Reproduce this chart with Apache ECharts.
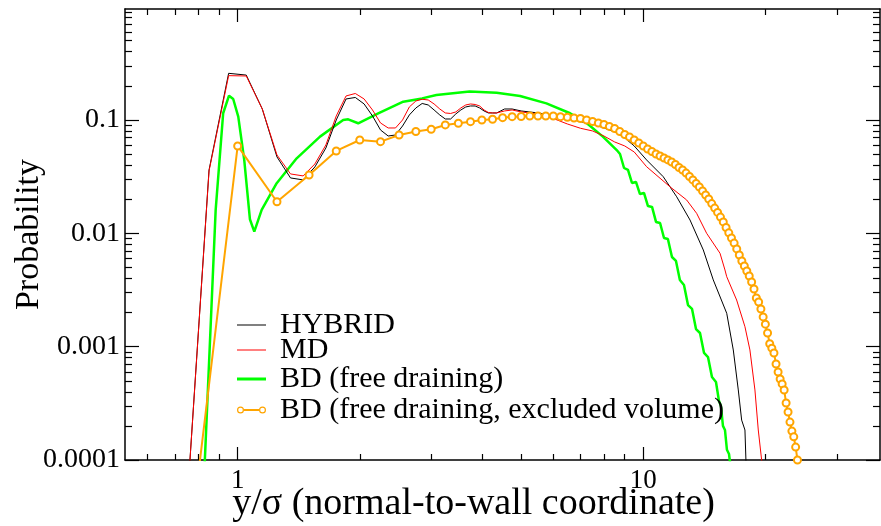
<!DOCTYPE html>
<html>
<head>
<meta charset="utf-8">
<script src="https://cdn.jsdelivr.net/npm/echarts@6/dist/echarts.min.js"></script>
<style>
html,body{margin:0;padding:0;background:#fff;}
#chart{width:881px;height:526px;}
</style>
</head>
<body>
<div id="chart"></div>
<script>
// ---- axis ticks / labels ----
const X_MAJOR = [1, 10];
const X_TICK_LABELS = ['1', '10'];
const X_MINOR = [0.6, 0.7, 0.8, 0.9, 2, 3, 4, 5, 6, 7, 8, 9, 20, 30];
const Y_MAJOR = [0.1, 0.01, 0.001, 0.0001];
const Y_TICK_LABELS = ['0.1', '0.01', '0.001', '0.0001'];
const Y_MINOR = [0.2,0.3,0.4,0.5,0.6,0.7,0.8,0.9,
                 0.02,0.03,0.04,0.05,0.06,0.07,0.08,0.09,
                 0.002,0.003,0.004,0.005,0.006,0.007,0.008,0.009,
                 0.0002,0.0003,0.0004,0.0005,0.0006,0.0007,0.0008,0.0009];
const SERIES_NAMES = ['HYBRID', 'MD', 'BD (free draining)', 'BD (free draining, excluded volume)'];

// ---- series values ----
const hybridX = [0.75,0.85,0.95,1.05,1.15,1.25,1.35,1.45,1.55,1.65,1.75,1.85,1.95,2.05,2.15,2.25,2.35,2.45,2.55,2.65,2.75,2.85,2.95,3.05,3.15,3.25,3.35,3.45,3.55,3.65,3.75,3.85,3.95,4.05,4.15,4.25,4.35,4.55,4.75,5.0,5.5,6.0,6.5,7.0,7.5,8.0,8.5,9.0,9.5,10.19,11.2,12.09,13.04,14.06,14.88,16.06,16.67,17.15,17.48,17.81,17.91,18.0];
const hybridY = [4e-5,0.0362,0.258,0.249,0.125,0.0472,0.0308,0.0296,0.0385,0.0566,0.100,0.1532,0.158,0.1384,0.1085,0.0816,0.0722,0.0737,0.0885,0.1107,0.1276,0.1398,0.1356,0.1225,0.1107,0.1020,0.1020,0.1130,0.1225,0.1302,0.1329,0.1329,0.1276,0.1201,0.1153,0.1153,0.1153,0.1250,0.1250,0.1201,0.1153,0.1096,0.1041,0.0966,0.0922,0.0850,0.0784,0.0694,0.0590,0.0444,0.0316,0.0210,0.0131,0.00713,0.00388,0.00197,0.000935,0.000415,0.000225,0.000184,0.0001,6e-5];

const mdX = [0.75,0.85,0.95,1.05,1.15,1.25,1.35,1.45,1.55,1.65,1.75,1.85,1.95,2.05,2.15,2.25,2.35,2.45,2.55,2.65,2.75,2.85,2.95,3.05,3.15,3.25,3.35,3.45,3.55,3.65,3.75,3.85,3.95,4.05,4.15,4.25,4.35,4.55,4.75,5.0,5.5,6.0,6.5,7.0,7.5,8.0,8.5,9.0,9.5,10.19,11.63,12.79,13.54,14.33,15.46,15.90,16.06,16.99,17.81,18.32,18.85,19.21,19.58,19.8];
const mdY = [4e-5,0.0355,0.2461,0.2444,0.125,0.0491,0.0334,0.0321,0.0409,0.0602,0.1085,0.1628,0.1713,0.1532,0.1225,0.0941,0.0850,0.0850,0.100,0.1302,0.1471,0.1523,0.1501,0.1384,0.1250,0.1153,0.1141,0.1177,0.1276,0.1356,0.1384,0.1370,0.1329,0.1225,0.1165,0.1153,0.1153,0.1201,0.1225,0.1177,0.1130,0.1031,0.0922,0.0845,0.0800,0.0722,0.0640,0.0590,0.0522,0.0387,0.0258,0.0197,0.0150,0.0100,0.00667,0.00475,0.00414,0.00258,0.0015,0.000935,0.000415,0.000184,0.0001,6e-5];

const bdX = [0.80,0.83,0.8826,0.921,0.952,0.975,1.0034,1.038,1.072,1.099,1.146,1.248,1.398,1.596,1.82,1.873,1.982,2.221,2.56,2.85,3.09,3.73,4.35,4.97,5.77,6.60,7.26,7.95,8.60,8.763,8.966,9.169,9.378,9.594,9.815,10.04,10.27,10.51,10.75,11.0,11.25,11.50,11.77,12.04,12.31,12.60,12.89,13.19,13.49,13.80,14.12,14.44,14.77,15.11,15.37,15.54,15.72,15.90,16.08,16.27,16.45];
const bdY = [2e-5,0.0001,0.0161,0.1146,0.1638,0.1532,0.1069,0.0444,0.01331,0.01036,0.0161,0.0277,0.0459,0.0713,0.100,0.1014,0.0935,0.1146,0.145,0.155,0.166,0.178,0.174,0.163,0.140,0.1146,0.0935,0.0713,0.0543,0.0501,0.0377,0.0362,0.0278,0.0284,0.0222,0.0227,0.0174,0.0171,0.0126,0.01234,0.0091,0.00891,0.00618,0.0057,0.00388,0.0035,0.00233,0.00215,0.00143,0.00132,0.00088,0.00081,0.00054,0.000488,0.000332,0.0003,0.0002,0.000184,0.000123,0.000113,8.2e-5];

const bdevX = [0.75,1.0,1.25,1.5,1.75,2.0,2.25,2.5,2.75,3.0,3.25,3.5,3.75,4.0,4.25,4.5,4.75,5.0,5.25,5.5,5.75,6.0,6.25,6.5,6.75,7.0,7.25,7.5,7.75,8.0,8.25,8.5,8.75,9.0,9.25,9.5,9.75,10.0,10.25,10.5,10.75,11.0,11.25,11.5,11.75,12.0,12.25,12.5,12.75,13.0,13.25,13.5,13.75,14.0,14.25,14.5,14.75,15.0,15.25,15.5,15.75,16.0,16.25,16.5,16.75,17.0,17.25,17.5,17.75,18.0,18.25,18.5,18.75,19.0,19.25,19.5,19.75,20.0,20.25,20.5,20.75,21.0,21.25,21.5,21.75,22.0,22.25,22.5,22.75,23.0,23.25,23.5,23.75,24.0,24.25];
const bdevY = [1.1e-5,0.059,0.0190,0.0327,0.0533,0.0666,0.0644,0.0737,0.0792,0.0828,0.0904,0.0935,0.0966,0.100,0.1014,0.1048,0.1069,0.1074,0.1085,0.1085,0.1085,0.1085,0.1069,0.1056,0.1041,0.1031,0.100,0.097,0.094,0.0913,0.0877,0.0841,0.0791,0.0745,0.0708,0.0666,0.0627,0.0590,0.0555,0.0527,0.0501,0.0481,0.0462,0.0444,0.0426,0.0405,0.0381,0.0362,0.0340,0.0317,0.0296,0.0275,0.0256,0.0236,0.0218,0.0201,0.0183,0.0167,0.0153,0.0139,0.0126,0.01126,0.0101,0.0091,0.0082,0.00728,0.00644,0.00570,0.00515,0.00465,0.00420,0.00372,0.00323,0.00269,0.00248,0.00215,0.00183,0.00158,0.00132,0.00106,0.00097,0.00088,0.000703,0.000597,0.000518,0.000469,0.000415,0.000318,0.000265,0.000216,0.000180,0.000160,0.000130,0.000100,7.4e-5];

// ---- build ----
const FONT = 'Liberation Serif';
const zip = (xs, ys) => xs.map((x, i) => [x, ys[i]]);
const XMIN = 0.5275, XMAX = 38.34, YMIN = 0.0001, YMAX = 0.953;
const lineBlack = { color: '#000', width: 1.5 };
const tickStyle = { color: '#000', width: 1.2 };
const COLORS = ['#000000', '#ff0000', '#00ff00', '#ffa500'];

function labelFor(majors, labels) {
  return function (v) {
    for (let i = 0; i < majors.length; i++) {
      if (Math.abs(Math.log10(majors[i]) - Math.log10(v)) < 1e-6) return labels[i];
    }
    return '';
  };
}

function xAxis(pos, major, showLabel) {
  return {
    type: 'log', logBase: 10, min: XMIN, max: XMAX, position: pos,
    axisLine: { show: major, lineStyle: lineBlack, onZero: false },
    axisTick: { show: true, inside: true, length: major ? 13 : 6,
      customValues: major ? X_MAJOR : X_MINOR, lineStyle: tickStyle },
    axisLabel: { show: showLabel, customValues: X_MAJOR, formatter: labelFor(X_MAJOR, X_TICK_LABELS),
      fontFamily: FONT, fontSize: 27, color: '#000', margin: 7 },
    splitLine: { show: false }, minorTick: { show: false }
  };
}
function yAxis(pos, major, showLabel) {
  return {
    type: 'log', logBase: 10, min: YMIN, max: YMAX, position: pos,
    axisLine: { show: major, lineStyle: lineBlack, onZero: false },
    axisTick: { show: true, inside: true, length: major ? 14 : 7,
      customValues: major ? Y_MAJOR : Y_MINOR, lineStyle: tickStyle },
    axisLabel: { show: showLabel, customValues: Y_MAJOR, formatter: labelFor(Y_MAJOR, Y_TICK_LABELS),
      fontFamily: FONT, fontSize: 28, color: '#000', margin: 5 },
    splitLine: { show: false }, minorTick: { show: false }
  };
}

const xAxes = [xAxis('bottom', true, true), xAxis('bottom', false, false), xAxis('top', true, false), xAxis('top', false, false)];
xAxes[0].name = 'y/\u03c3 (normal-to-wall coordinate)';
xAxes[0].nameLocation = 'middle';
xAxes[0].nameGap = 25;
xAxes[0].nameMoveOverlap = false;
xAxes[0].nameTextStyle = { fontFamily: FONT, fontSize: 38, color: '#000', padding: [0, 58, 0, 0] };
const yAxes = [yAxis('left', true, true), yAxis('left', false, false), yAxis('right', true, false), yAxis('right', false, false)];
yAxes[0].name = 'Probability';
yAxes[0].nameLocation = 'middle';
yAxes[0].nameGap = 79;
yAxes[0].nameMoveOverlap = false;
yAxes[0].nameTextStyle = { fontFamily: FONT, fontSize: 34, color: '#000' };

// legend sample for the marker series: a line with a ring at each end
const RING_ICON = 'path://M0,3.5 A3.5,3.5 0 1,0 7,3.5 A3.5,3.5 0 1,0 0,3.5 Z M1.2,3.5 A2.3,2.3 0 1,1 5.8,3.5 A2.3,2.3 0 1,1 1.2,3.5 Z ' +
  'M22,3.5 A3.5,3.5 0 1,0 29,3.5 A3.5,3.5 0 1,0 22,3.5 Z M23.2,3.5 A2.3,2.3 0 1,1 27.8,3.5 A2.3,2.3 0 1,1 23.2,3.5 Z ' +
  'M7,2.5 L22,2.5 L22,4.5 L7,4.5 Z';
const legendTops = [310, 335, 364, 395];
const legendIcon = ['rect', 'rect', 'rect', RING_ICON];
const legendIconH = [1, 1, 3, 7];
const legends = SERIES_NAMES.map((n, i) => ({
  data: [{ name: n, icon: legendIcon[i] }], left: 237, top: legendTops[i], orient: 'vertical', padding: 0,
  itemWidth: 29, itemHeight: legendIconH[i],
  itemStyle: { color: COLORS[i], borderWidth: 0 },
  textStyle: { fontFamily: FONT, fontSize: 30, color: '#000', padding: [0, 0, 0, 9] },
  selectedMode: false
}));

const option = {
  animation: false,
  backgroundColor: '#fff',
  grid: { left: 125, right: 1, top: 9, bottom: 66, containLabel: false, outerBoundsMode: 'none' },
  xAxis: xAxes,
  yAxis: yAxes,
  legend: legends,
  series: [
    { name: SERIES_NAMES[0], type: 'line', data: zip(hybridX, hybridY), symbol: 'none',
      lineStyle: { color: COLORS[0], width: 1 }, itemStyle: { color: COLORS[0] }, z: 4 },
    { name: SERIES_NAMES[1], type: 'line', data: zip(mdX, mdY), symbol: 'none',
      lineStyle: { color: COLORS[1], width: 1 }, itemStyle: { color: COLORS[1] }, z: 5 },
    { name: SERIES_NAMES[2], type: 'line', data: zip(bdX, bdY), symbol: 'none',
      lineStyle: { color: COLORS[2], width: 2.5 }, itemStyle: { color: COLORS[2] }, z: 3 },
    { name: SERIES_NAMES[3], type: 'line', data: zip(bdevX, bdevY), symbol: 'emptyCircle', symbolSize: 7,
      lineStyle: { color: COLORS[3], width: 2 }, itemStyle: { color: COLORS[3], borderWidth: 1 }, z: 6 }
  ]
};
const chart = echarts.init(document.getElementById('chart'), null, { renderer: 'canvas' });
chart.setOption(option);
</script>
</body>
</html>
